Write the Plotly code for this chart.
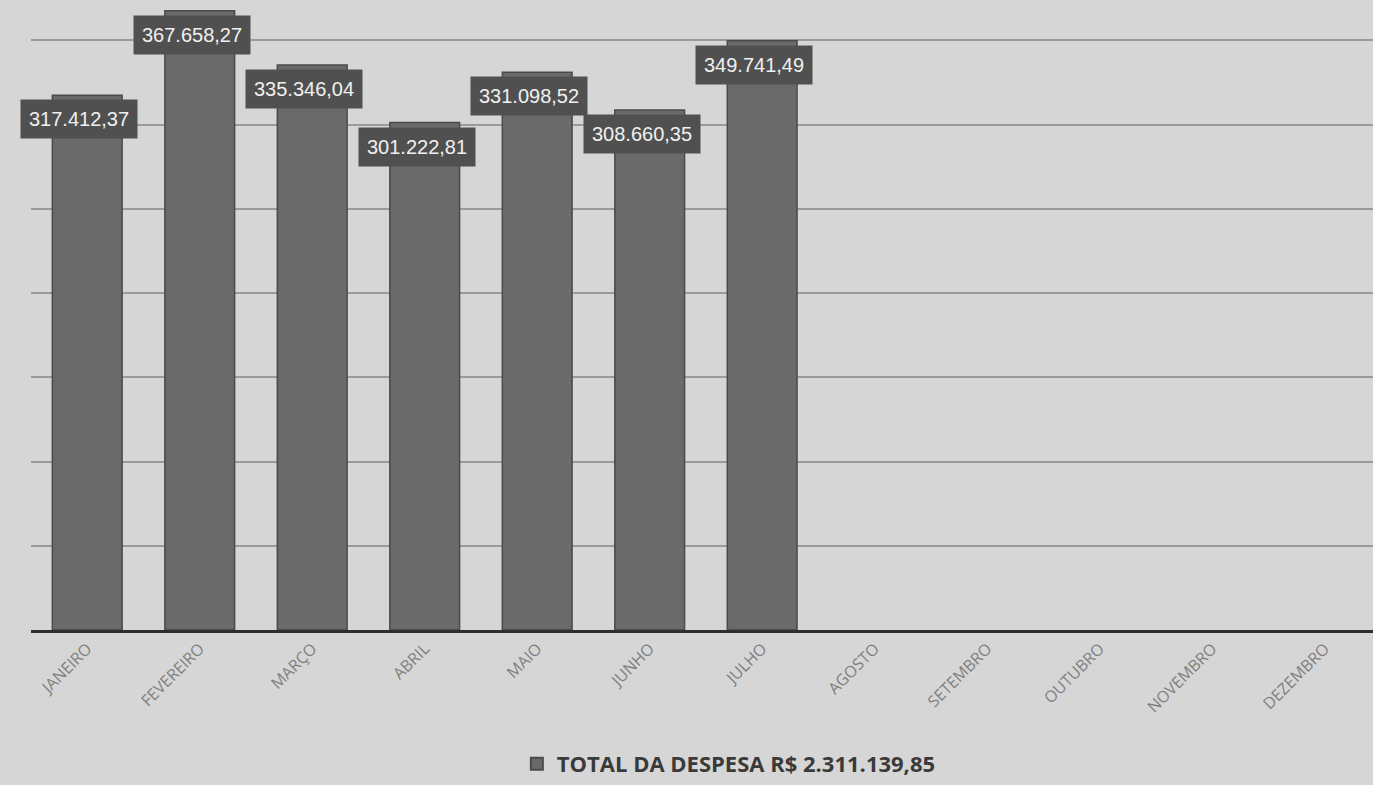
import plotly.graph_objects as go

# Monthly expense totals (R$)
meses = ["JANEIRO", "FEVEREIRO", "MARÇO", "ABRIL", "MAIO", "JUNHO", "JULHO",
         "AGOSTO", "SETEMBRO", "OUTUBRO", "NOVEMBRO", "DEZEMBRO"]
despesas = [317412.37, 367658.27, 335346.04, 301222.81, 331098.52, 308660.35, 349741.49,
            None, None, None, None, None]
total_label = "TOTAL DA DESPESA R$ 2.311.139,85"


def brl(v):
    s = f"{v:,.2f}"
    return s.replace(",", "X").replace(".", ",").replace("X", ".")


fig = go.Figure()
fig.add_trace(go.Bar(
    x=meses,
    y=despesas,
    name=f"<b>{total_label}</b>",
    marker=dict(color="#6a6a6a", line=dict(color="#4a4a4a", width=1.5)),
    showlegend=True,
))

# Value labels in dark boxes sitting on the top of each bar
for m, v in zip(meses, despesas):
    if v is None:
        continue
    fig.add_annotation(
        x=m, y=v, xref="x", yref="y",
        text=brl(v), showarrow=False,
        yanchor="top", yshift=-4, xshift=-8,
        font=dict(family="Liberation Sans Narrow, Arial Narrow, sans-serif", size=20, color="#f0f0f0"),
        bgcolor="#505050", borderpad=8,
    )

fig.update_layout(
    width=1373, height=785,
    margin=dict(l=31, r=0, t=0, b=145),
    paper_bgcolor="#d6d6d6",
    plot_bgcolor="#d6d6d6",
    bargap=0.38,
    font=dict(family="Open Sans, sans-serif"),
    legend=dict(
        orientation="h", x=0.52, xanchor="center", y=-0.18, yanchor="top",
        font=dict(size=22, color="#3a3a3a", family="Open Sans, sans-serif"),
        itemsizing="constant",
    ),
    xaxis=dict(
        range=[-0.5, 11.43],
        tickangle=-45,
        tickfont=dict(size=16, color="#808080", family="Open Sans, sans-serif"),
        showgrid=False,
        showline=True, linecolor="#2e2e2e", linewidth=3,
        ticks="",
    ),
    yaxis=dict(
        range=[0, 374000],
        dtick=50000,
        showticklabels=False,
        showgrid=True, gridcolor="#9a9a9a", gridwidth=1.5,
        zeroline=False,
        ticks="",
    ),
)

fig.write_html("out.html")
